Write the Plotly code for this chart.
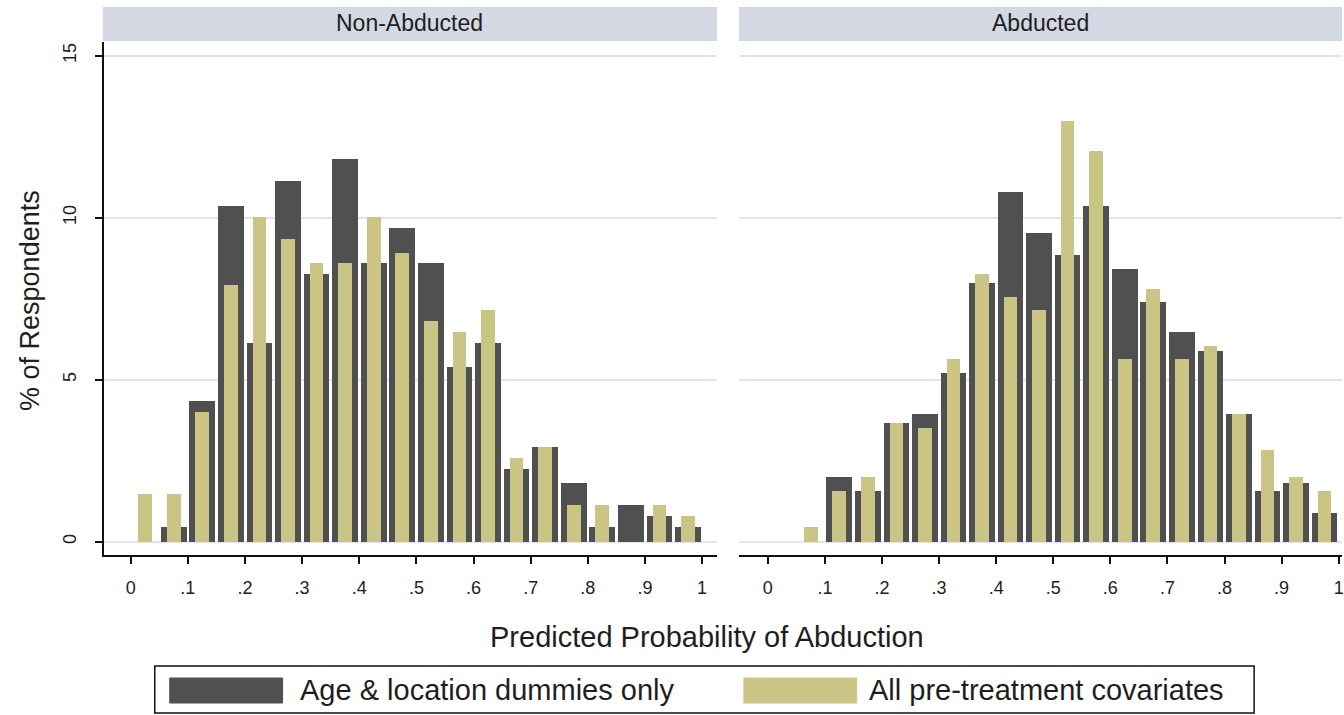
import plotly.graph_objects as go

# ---------------- data ----------------
bin_centers = [0.025, 0.075, 0.125, 0.175, 0.225, 0.275, 0.325, 0.375, 0.425, 0.475,
               0.525, 0.575, 0.625, 0.675, 0.725, 0.775, 0.825, 0.875, 0.925, 0.975]

nonab_age_loc = [0, 0.46, 4.35, 10.36, 6.13, 11.14, 8.26, 11.80, 8.59, 9.69,
                 8.59, 5.38, 6.13, 2.24, 2.91, 1.81, 0.46, 1.13, 0.80, 0.46]
nonab_all_cov = [1.46, 1.46, 4.01, 7.91, 10.01, 9.35, 8.59, 8.59, 10.01, 8.92,
                 6.81, 6.47, 7.15, 2.57, 2.91, 1.13, 1.13, 0, 1.13, 0.80]
ab_age_loc = [0, 0, 1.99, 1.56, 3.67, 3.93, 5.20, 7.99, 10.79, 9.52,
              8.85, 10.36, 8.41, 7.41, 6.47, 5.89, 3.93, 1.56, 1.81, 0.89]
ab_all_cov = [0, 0.46, 1.56, 1.99, 3.67, 3.50, 5.63, 8.25, 7.56, 7.15,
              12.98, 12.06, 5.63, 7.81, 5.63, 6.04, 3.93, 2.83, 1.99, 1.56]

panel_titles = ["Non-Abducted", "Abducted"]
series_names = ["Age & location dummies only", "All pre-treatment covariates"]
x_tickvals = [0, 0.1, 0.2, 0.3, 0.4, 0.5, 0.6, 0.7, 0.8, 0.9, 1]
x_ticktext = ["0", ".1", ".2", ".3", ".4", ".5", ".6", ".7", ".8", ".9", "1"]
y_tickvals = [0, 5, 10, 15]
y_ticktext = ["0", "5", "10", "15"]
x_title = "Predicted Probability of Abduction"
y_title = "% of Respondents"

# ---------------- style ----------------
W, H = 1344, 715
DARK = "#505050"
GOLD = "#cac584"
STRIP = "#d3d8e3"
GRID = "#dfe4f0"
FONT = "Liberation Sans, Arial, sans-serif"
TXT = "#1e1e1e"


def px(x):
    return x / W


def py(y):
    return 1 - y / H


fig = go.Figure()

for xa, ya, dark, gold in [("x", "y", nonab_age_loc, nonab_all_cov),
                           ("x2", "y2", ab_age_loc, ab_all_cov)]:
    fig.add_trace(go.Bar(x=bin_centers, y=dark, width=0.045, xaxis=xa, yaxis=ya,
                         marker=dict(color=DARK, line=dict(width=0)),
                         name=series_names[0], showlegend=False))
    fig.add_trace(go.Bar(x=bin_centers, y=gold, width=0.024, xaxis=xa, yaxis=ya,
                         marker=dict(color=GOLD, line=dict(width=0)),
                         name=series_names[1], showlegend=False))

yrange = [-0.41, 15.42]
ydom = [py(555), py(42)]

common_x = dict(tickvals=x_tickvals, ticktext=x_ticktext, ticks="outside", ticklen=7,
                tickwidth=2, tickcolor="#111", showline=True, linecolor="#111", linewidth=2,
                showgrid=False, zeroline=False, ticklabelstandoff=8, ticklabeloverflow="allow",
                tickfont=dict(family=FONT, size=18, color=TXT))

fig.update_layout(
    width=W, height=H, autosize=False,
    margin=dict(l=0, r=0, t=0, b=0),
    paper_bgcolor="white", plot_bgcolor="white",
    barmode="overlay", bargap=0, showlegend=False,
    xaxis=dict(domain=[px(104), px(718)], range=[-0.047, 1.026], anchor="y", **common_x),
    xaxis2=dict(domain=[px(740), 1.0], range=[-0.0507, 1.0058], anchor="y2", **common_x),
    yaxis=dict(domain=ydom, range=yrange, anchor="x", tickvals=y_tickvals, ticktext=y_ticktext,
               tickangle=-90, ticks="outside", ticklen=7, tickwidth=2, tickcolor="#111",
               showline=True, linecolor="#111", linewidth=2, showgrid=True, gridcolor=GRID,
               gridwidth=1.5, zeroline=False, ticklabelstandoff=12,
               tickfont=dict(family=FONT, size=18, color=TXT)),
    yaxis2=dict(domain=ydom, range=yrange, anchor="x2", matches="y", tickvals=y_tickvals,
                showticklabels=False, ticks="", showline=False, showgrid=True,
                gridcolor=GRID, gridwidth=1.5, zeroline=False),
)

shapes = []
annotations = []

# facet strips
for (x0, x1), title in zip([(103, 718), (740, 1344)], panel_titles):
    shapes.append(dict(type="rect", xref="paper", yref="paper", x0=px(x0), x1=px(x1),
                       y0=py(41), y1=py(7), fillcolor=STRIP, line=dict(width=0), layer="below"))
    annotations.append(dict(xref="paper", yref="paper", x=px((x0 + x1) / 2), y=py(23),
                            text=title, showarrow=False, xanchor="center", yanchor="middle",
                            font=dict(family=FONT, size=23, color=TXT)))

# axis titles
annotations.append(dict(xref="paper", yref="paper", x=px(708), y=py(637), text=x_title,
                        showarrow=False, xanchor="center", yanchor="middle",
                        font=dict(family=FONT, size=29, color=TXT)))
annotations.append(dict(xref="paper", yref="paper", x=px(30), y=py(300), text=y_title,
                        textangle=-90, showarrow=False, xanchor="center", yanchor="middle",
                        font=dict(family=FONT, size=27, color=TXT)))

# legend box
shapes.append(dict(type="rect", xref="paper", yref="paper", x0=px(155), x1=px(1256),
                   y0=py(713), y1=py(666), fillcolor="white", line=dict(color="#111", width=1.5)))
for (sx0, sx1, tx), color, name in zip([(170, 283, 298), (745, 858, 868)], [DARK, GOLD], series_names):
    shapes.append(dict(type="rect", xref="paper", yref="paper", x0=px(sx0), x1=px(sx1),
                       y0=py(703), y1=py(678), fillcolor=color, line=dict(color=color, width=1)))
    annotations.append(dict(xref="paper", yref="paper", x=px(tx), y=py(690), text=name,
                            showarrow=False, xanchor="left", yanchor="middle",
                            font=dict(family=FONT, size=29, color=TXT)))

fig.update_layout(shapes=shapes, annotations=annotations)

fig.write_html(
    "out.html",
    config={"displayModeBar": False},
    post_script="document.body.style.margin='0';document.body.style.overflow='hidden';"
                "document.documentElement.style.overflow='hidden';",
)
